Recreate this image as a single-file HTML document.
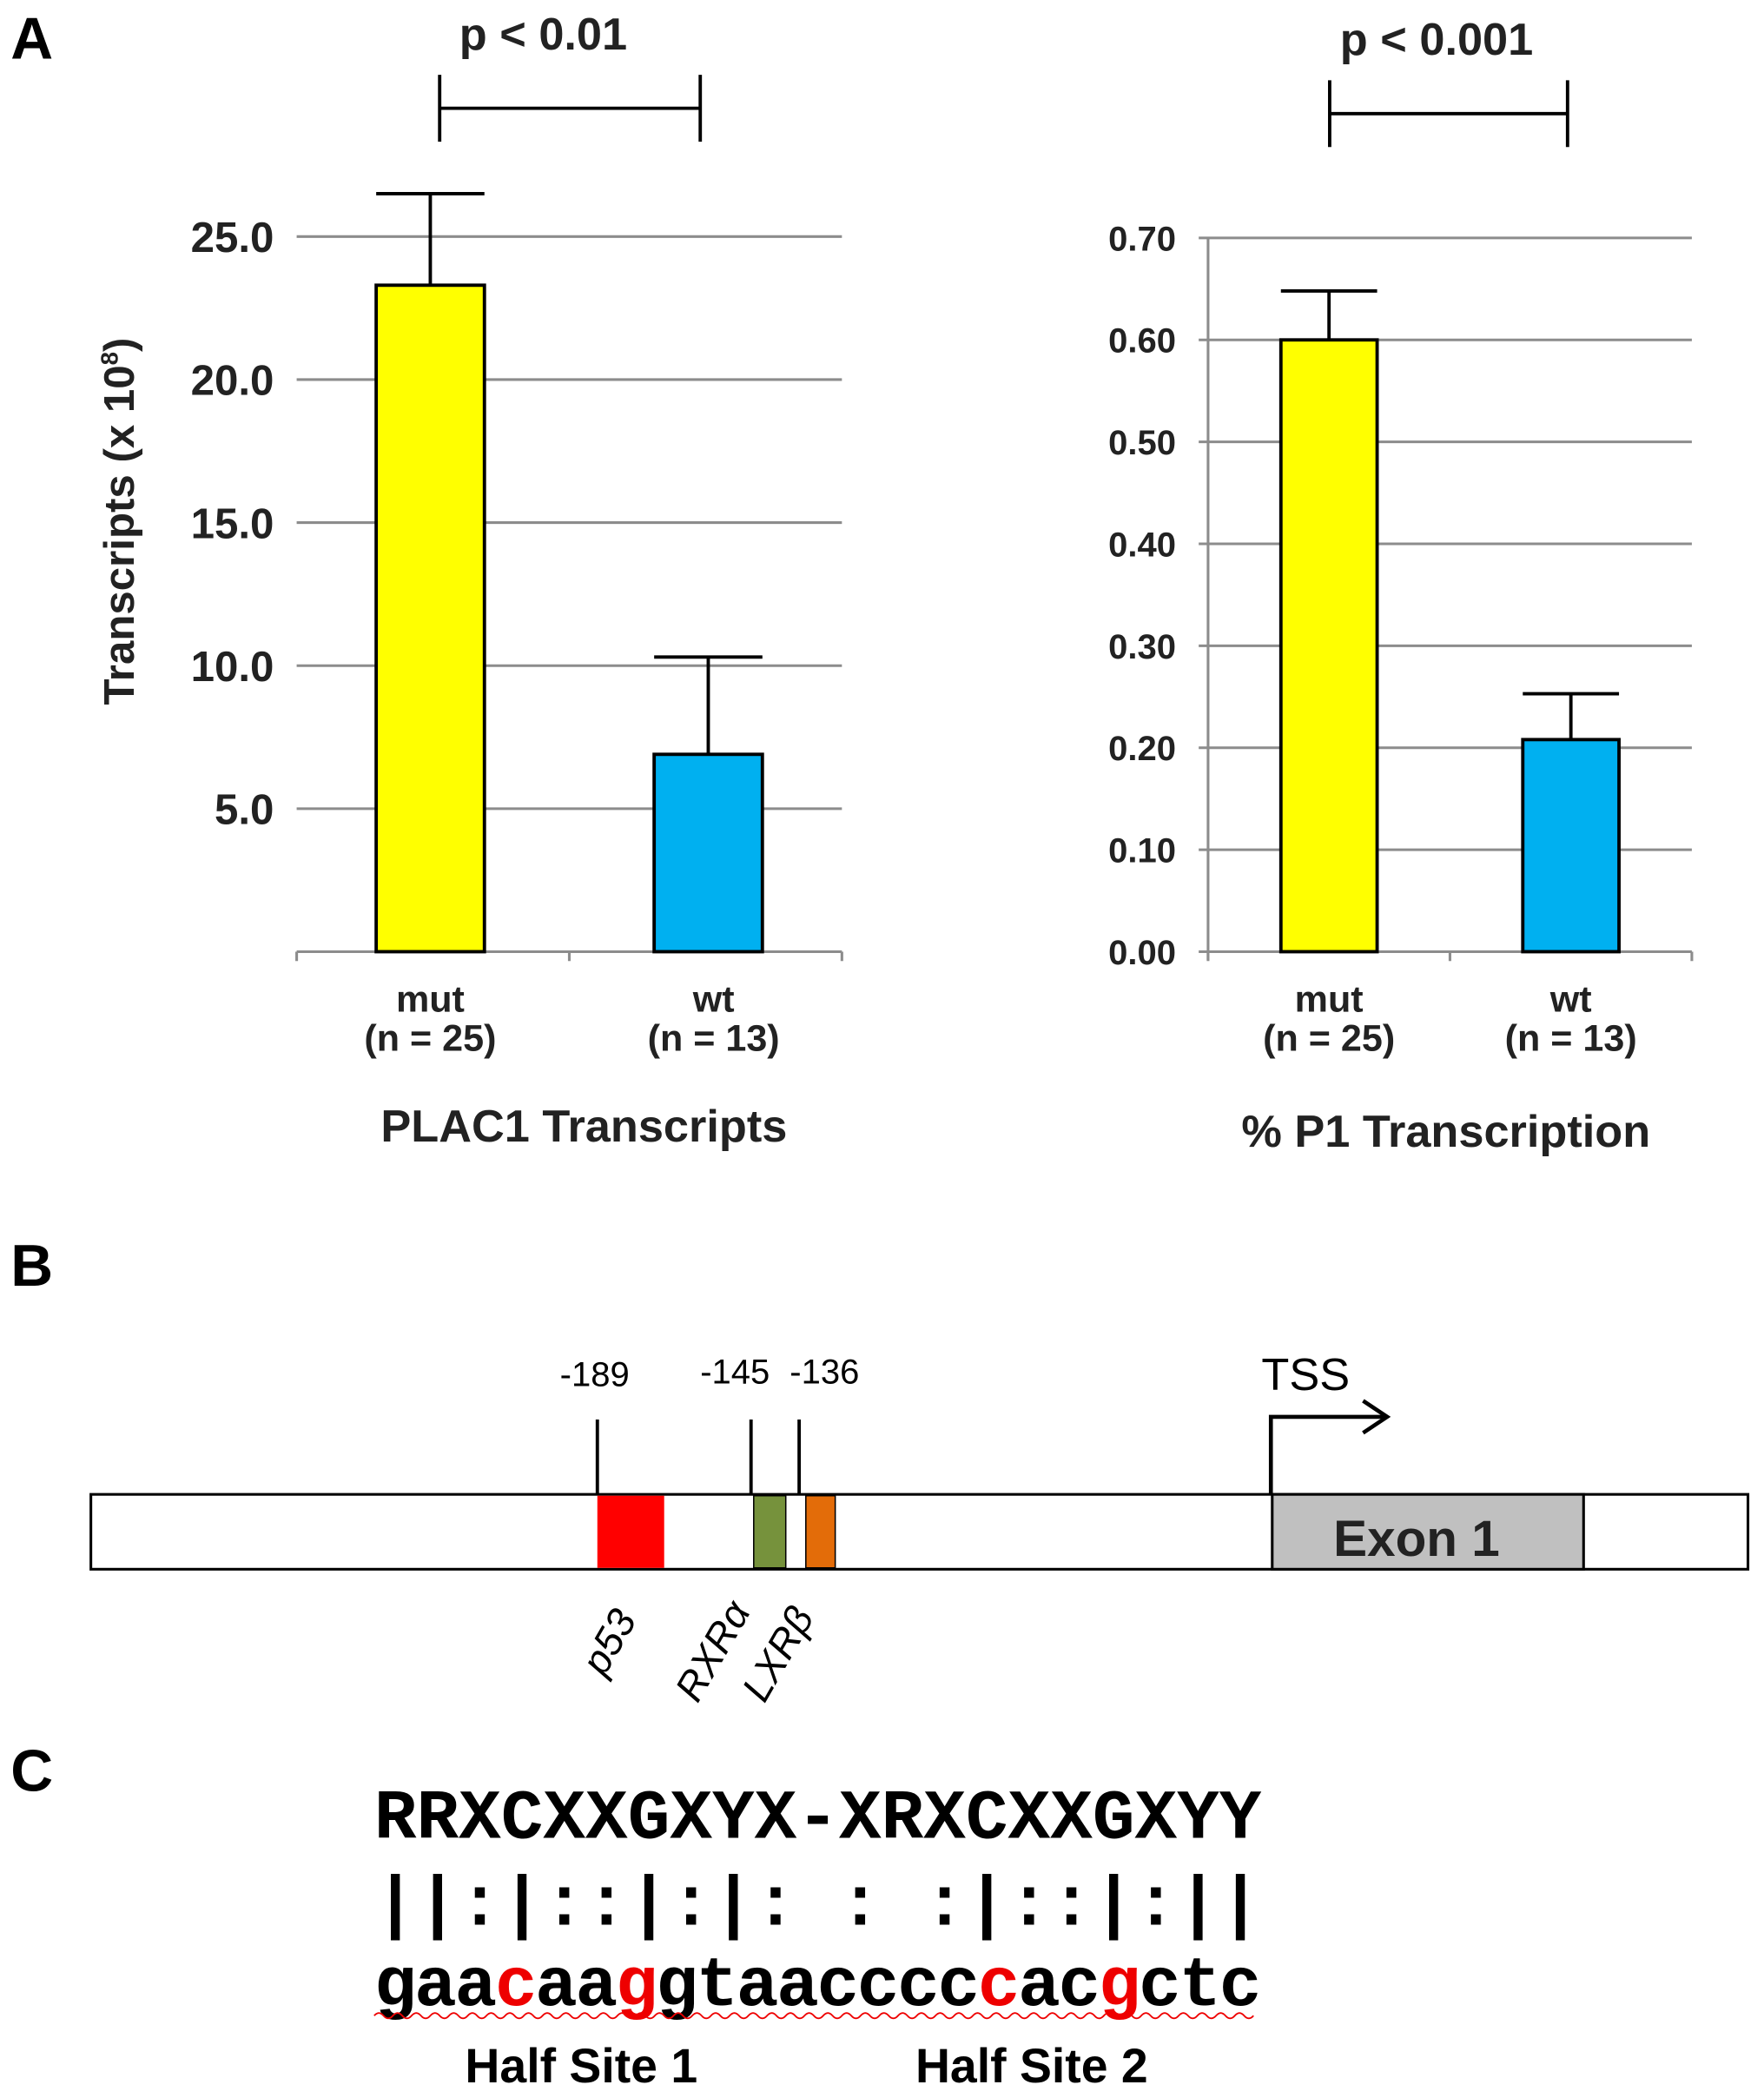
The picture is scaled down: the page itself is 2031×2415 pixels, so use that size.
<!DOCTYPE html>
<html><head><meta charset="utf-8"><style>
html,body{margin:0;padding:0;background:#fff}
svg{display:block}
</style></head><body>
<svg id="fig" width="2031" height="2415" viewBox="0 0 1320 1569.6" preserveAspectRatio="none" xmlns="http://www.w3.org/2000/svg" font-family="Liberation Sans, Arial, sans-serif">
<text x="8" y="44" font-size="44" font-weight="bold">A</text>
<text x="8" y="962" font-size="44" font-weight="bold">B</text>
<text x="8" y="1340" font-size="44" font-weight="bold">C</text>
<g id="chart1"></g>
<g id="chart2"></g>

<!-- Panel B -->
<g>
<rect x="68" y="1118" width="1240" height="56" fill="#fff" stroke="#000" stroke-width="2"/>
<rect x="952" y="1118" width="233" height="56" fill="#c0c0c0" stroke="#000" stroke-width="2"/>
<text x="1060" y="1164" font-size="38" font-weight="bold" text-anchor="middle" fill="#222">Exon 1</text>
<rect x="447" y="1119" width="50" height="54" fill="#ff0000"/>
<rect x="564" y="1119" width="24" height="54" fill="#76923c" stroke="#000" stroke-width="1"/>
<rect x="603" y="1119" width="22" height="54" fill="#e36c09" stroke="#000" stroke-width="1"/>
<line x1="447" y1="1062" x2="447" y2="1118" stroke="#000" stroke-width="2.5"/>
<line x1="562" y1="1062" x2="562" y2="1118" stroke="#000" stroke-width="2.5"/>
<line x1="598" y1="1062" x2="598" y2="1118" stroke="#000" stroke-width="2.5"/>
<text x="445" y="1037" font-size="26" text-anchor="middle">-189</text>
<text x="550" y="1035" font-size="26" text-anchor="middle">-145</text>
<text x="617" y="1035" font-size="26" text-anchor="middle">-136</text>
<path d="M951 1118 V1060 H1036" fill="none" stroke="#000" stroke-width="3"/>
<path d="M1020 1048 L1038 1060 L1020 1072" fill="none" stroke="#000" stroke-width="3"/>
<text x="977" y="1040" font-size="34" text-anchor="middle">TSS</text>
<text transform="translate(452,1255) rotate(-60)" font-size="30" font-style="italic">p53</text>
<text transform="translate(522,1275) rotate(-60)" font-size="30" font-style="italic">RXRα</text>
<text transform="translate(572,1275) rotate(-60)" font-size="30" font-style="italic">LXRβ</text>
</g>

<!-- Panel C -->
<g font-family="Liberation Mono, Courier New, monospace" font-weight="bold">
<text x="280" y="1375" font-size="52.7" textLength="664">RRXCXXGXYX-XRXCXXGXYY</text>
<text x="280" y="1440" font-size="52.7" textLength="664" xml:space="preserve">||:|::|:|: : :|::|:||</text>
<text x="280" y="1500" font-size="52.7" textLength="664">gaa<tspan fill="#e00">c</tspan>aa<tspan fill="#e00">g</tspan>gtaacccc<tspan fill="#e00">c</tspan>ac<tspan fill="#e00">g</tspan>ctc</text>
<path d="M280 1508 q3.5 -4 7 0 t7 0 t7 0 t7 0 t7 0 t7 0 t7 0 t7 0 t7 0 t7 0 t7 0 t7 0 t7 0 t7 0 t7 0 t7 0 t7 0 t7 0 t7 0 t7 0 t7 0 t7 0 t7 0 t7 0 t7 0 t7 0 t7 0 t7 0 t7 0 t7 0 t7 0 t7 0 t7 0 t7 0 t7 0 t7 0 t7 0 t7 0 t7 0 t7 0 t7 0 t7 0 t7 0 t7 0 t7 0 t7 0 t7 0 t7 0 t7 0 t7 0 t7 0 t7 0 t7 0 t7 0 t7 0 t7 0 t7 0 t7 0 t7 0 t7 0 t7 0 t7 0 t7 0 t7 0 t7 0 t7 0 t7 0 t7 0 t7 0 t7 0 t7 0 t7 0 t7 0 t7 0 t7 0 t7 0 t7 0 t7 0 t7 0 t7 0 t7 0 t7 0 t7 0 t7 0 t7 0 t7 0 t7 0 t7 0 t7 0 t7 0 t7 0 t7 0 t7 0 t7 0" fill="none" stroke="#e00" stroke-width="1.2"/>
</g>
<text x="435" y="1558" font-size="36" font-weight="bold" text-anchor="middle">Half Site 1</text>
<text x="772" y="1558" font-size="36" font-weight="bold" text-anchor="middle">Half Site 2</text>
</svg>
<script>
// Chart 1 data
const c1Categories = ["mut", "wt"];
const c1N = ["(n = 25)", "(n = 13)"];
const c1Values = [23.3, 6.9];
const c1Errors = [3.2, 3.4];
const c1Ticks = [5, 10, 15, 20, 25];
const c1TickLabels = ["5.0", "10.0", "15.0", "20.0", "25.0"];
// Chart 2 data
const c2Categories = ["mut", "wt"];
const c2N = ["(n = 25)", "(n = 13)"];
const c2Values = [0.60, 0.208];
const c2Errors = [0.048, 0.045];
const c2Ticks = [0, 0.1, 0.2, 0.3, 0.4, 0.5, 0.6, 0.7];
const c2TickLabels = ["0.00", "0.10", "0.20", "0.30", "0.40", "0.50", "0.60", "0.70"];
const barColors = ["#ffff00", "#00b0f0"];
const NS = "http://www.w3.org/2000/svg";
function mk(parent, tag, attrs, text) {
  const e = document.createElementNS(NS, tag);
  for (const k in attrs) e.setAttribute(k, attrs[k]);
  if (text !== undefined) e.textContent = text;
  parent.appendChild(e);
  return e;
}
function drawChart(g, o) {
  const y = v => o.y0 - (v - 0) / o.yMax * (o.y0 - o.yTop);
  const band = (o.x1 - o.x0) / o.cats.length;
  const xc = i => o.x0 + band * (i + 0.5) + (o.shift ? o.shift[i] : 0);
  o.ticks.forEach((t, i) => {
    if (t > 0) {
      const gl = mk(g, "line", {x1: o.x0 - (o.tickOut || 0), x2: o.x1, y1: y(t), y2: y(t), stroke: "#8c8c8c", "stroke-width": 2});
      
      
    }
    const tl = mk(g, "text", {x: o.labelX, y: y(t) + o.fs * 0.36, "font-size": o.fs, "font-weight": "bold", "text-anchor": "end", fill: "#222"}, o.tickLabels[i]);
    
    
  });
  const ax = mk(g, "line", {x1: o.x0 - (o.tickOut || 0), x2: o.x1, y1: o.y0, y2: o.y0, stroke: "#8c8c8c", "stroke-width": 2});
  
  
  if (o.yAxisLine) {
    const ya = mk(g, "line", {x1: o.x0, x2: o.x0, y1: y(o.yMax), y2: o.y0 + 6, stroke: "#8c8c8c", "stroke-width": 2});
    
    
  }
  for (let i = 0; i <= o.cats.length; i++) {
    const tk = mk(g, "line", {x1: o.x0 + band * i, x2: o.x0 + band * i, y1: o.y0, y2: o.y0 + 7, stroke: "#8c8c8c", "stroke-width": 2});
    
    
  }
  o.vals.forEach((v, i) => {
    const cx = xc(i);
    const eb = mk(g, "path", {d: `M${cx} ${y(v)} V${y(v + o.errs[i])} M${cx - o.bw / 2} ${y(v + o.errs[i])} H${cx + o.bw / 2}`, stroke: "#000", "stroke-width": 2.5, fill: "none"});
    
    
    const b = mk(g, "rect", {x: cx - o.bw / 2, y: y(v), width: o.bw, height: o.y0 - y(v), fill: barColors[i], stroke: "#000", "stroke-width": 2.5});
    
    
    const c = mk(g, "text", {x: cx + (o.labShift ? o.labShift[i] : 0), y: o.y0 + 45, "font-size": 28, "font-weight": "bold", "text-anchor": "middle", fill: "#222"}, o.cats[i]);
    
    
    const n = mk(g, "text", {x: cx + (o.labShift ? o.labShift[i] : 0), y: o.y0 + 74, "font-size": 28, "font-weight": "bold", "text-anchor": "middle", fill: "#222"}, o.ns[i]);
    
    
  });
  const br = mk(g, "path", {d: `M${o.brX[0]} ${o.brY - 25} V${o.brY + 25} M${o.brX[1]} ${o.brY - 25} V${o.brY + 25} M${o.brX[0]} ${o.brY} H${o.brX[1]}`, stroke: "#000", "stroke-width": 2.5, fill: "none"});
  
  
  const p = mk(g, "text", {x: (o.brX[0] + o.brX[1]) / 2 + o.pShift, y: o.brY - 44, "font-size": 34, "font-weight": "bold", "text-anchor": "middle", fill: "#222"}, o.pText);
  
  
  const t = mk(g, "text", {x: o.titleX, y: o.titleY, "font-size": 34, "font-weight": "bold", "text-anchor": "middle", fill: "#222"}, o.title);
  
  
}
const g1 = document.getElementById("chart1");
drawChart(g1, {cats: c1Categories, ns: c1N, vals: c1Values, errs: c1Errors, ticks: c1Ticks, tickLabels: c1TickLabels,
  x0: 222, x1: 630, y0: 712, yTop: 177, yMax: 25, bw: 81, fs: 32, labelX: 205, shift: [-2, 2], labShift: [0, 4],
  brX: [329, 524], brY: 81, pText: "p < 0.01", pShift: -20, title: "PLAC1 Transcripts", titleX: 437, titleY: 854});
const yt = mk(g1, "text", {transform: "translate(100,390) rotate(-90)", "font-size": 32, "font-weight": "bold", "text-anchor": "middle", fill: "#222"}, "Transcripts (x 10");


mk(yt, "tspan", {"font-size": 18, dy: -12}, "8");
mk(yt, "tspan", {dy: 12}, ")");
drawChart(document.getElementById("chart2"), {cats: c2Categories, ns: c2N, vals: c2Values, errs: c2Errors, ticks: c2Ticks, tickLabels: c2TickLabels,
  x0: 904, x1: 1266, y0: 712, yTop: 178, yMax: 0.7, bw: 72, fs: 26, labelX: 880, tickOut: 7, yAxisLine: true, shift: [0, 0], labShift: [0, 0],
  brX: [995, 1173], brY: 85, pText: "p < 0.001", pShift: -9, title: "% P1 Transcription", titleX: 1082, titleY: 858});
</script>
</body></html>
